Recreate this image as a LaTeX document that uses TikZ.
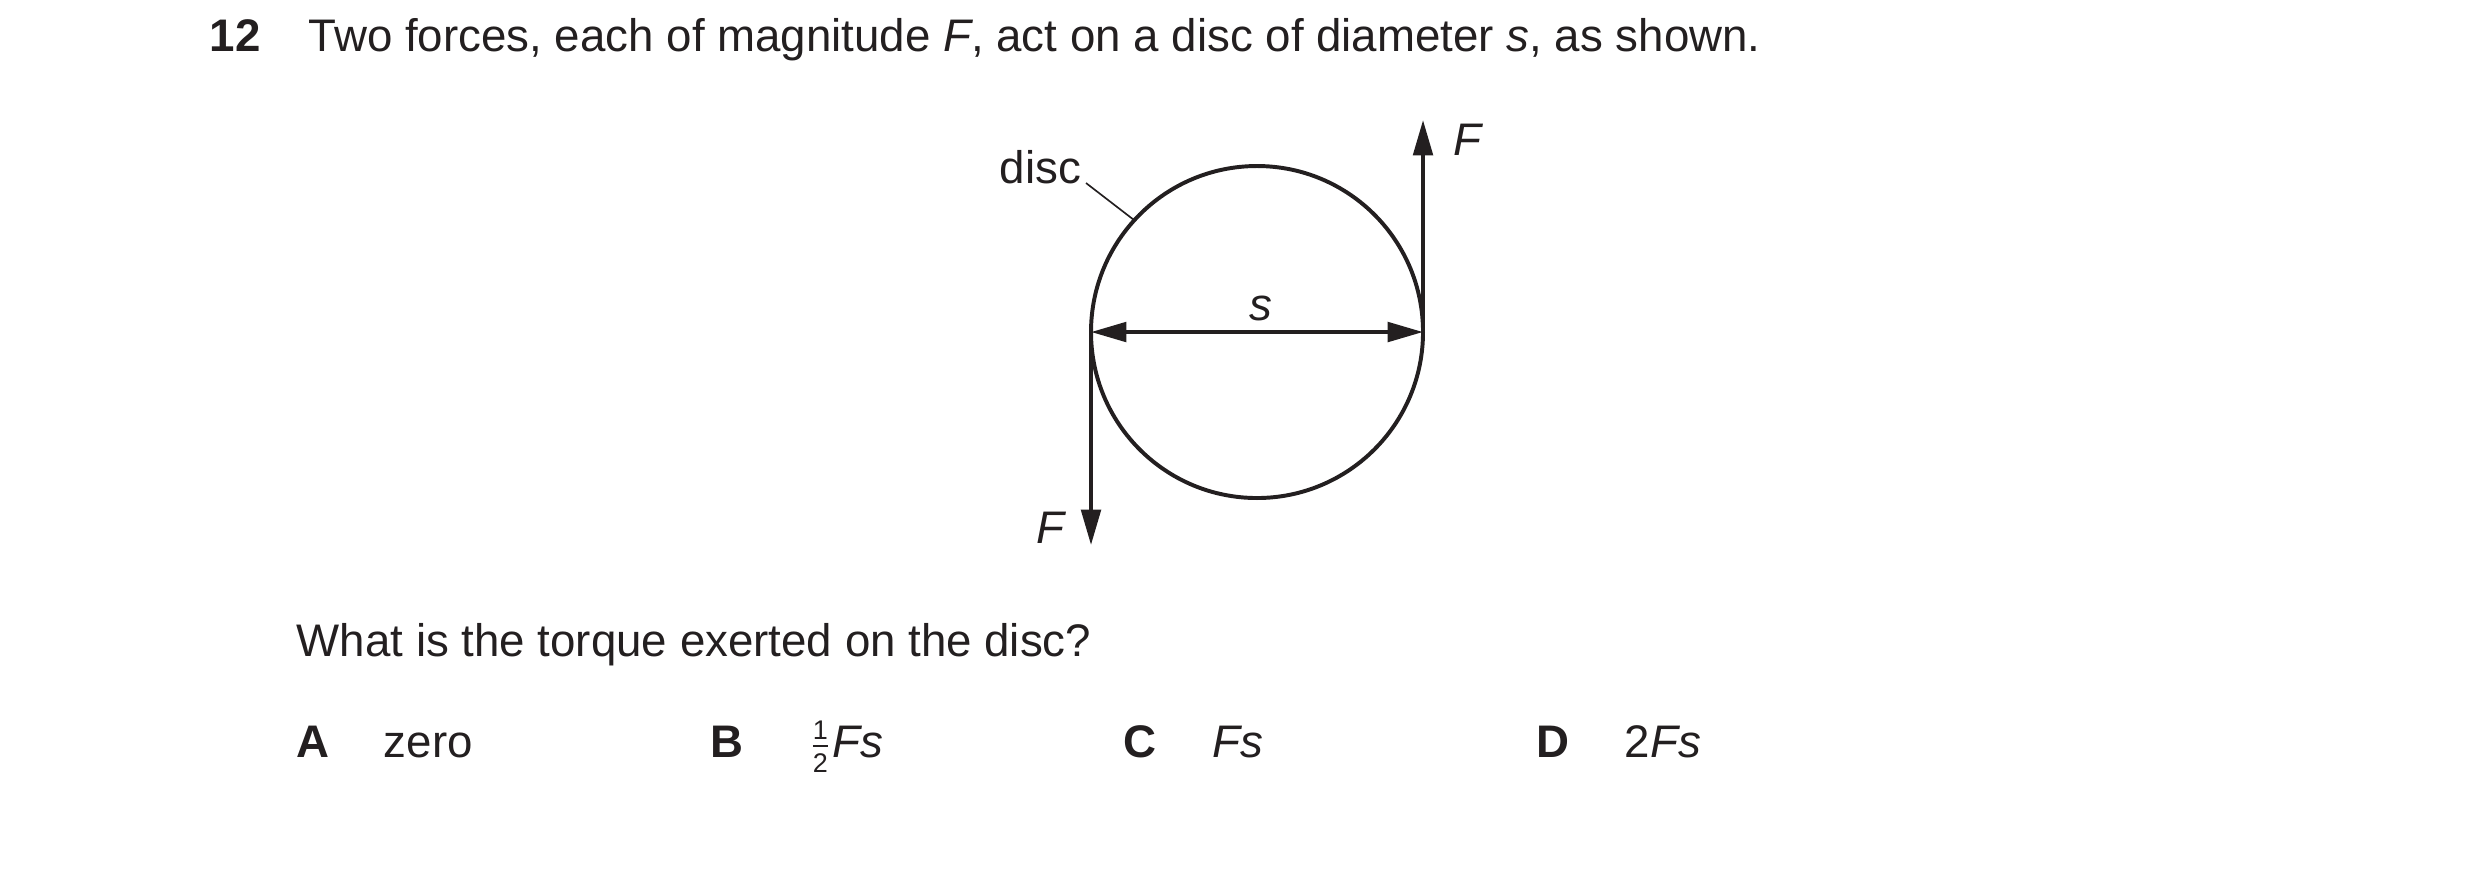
\documentclass[tikz,border=0pt]{standalone}
\usepackage{fontspec}
\setmainfont{Liberation Sans}
\usetikzlibrary{arrows.meta}
\definecolor{ink}{HTML}{231F20}
\newcommand\halfsym{\ensuremath{\frac{\mbox{\fontsize{6.5}{7}\selectfont 1}}{\mbox{\fontsize{6.5}{7}\selectfont 2}}}}
\begin{document}
\begin{tikzpicture}[x=0.084667mm,y=-0.084667mm,color=ink,
  txt/.style={anchor=base west,inner sep=0pt,text=ink,font=\fontsize{11}{13}\selectfont},
  thick line/.style={line width=0.95pt,draw=ink},
  force/.style={thick line,-{Triangle[length=3mm,width=1.65mm]}},
  dim/.style={thick line,{Triangle[length=3mm,width=1.65mm]}-{Triangle[length=3mm,width=1.65mm]}},
  leader/.style={line width=0.4pt,draw=ink}]
\useasboundingbox (0,0) rectangle (2480,879);
% question
\node[txt,font=\fontsize{11}{13}\selectfont\bfseries] (num) at (209,51) {12};
\node[txt] (q) at (308,51) {Two forces, each of magnitude \textit{F}, act on a disc of diameter \textit{s}, as shown.};
% disc
\coordinate (C) at (1257,332);
\coordinate (L) at (1091,332);
\coordinate (R) at (1423,332);
\coordinate (Rtip) at (1423,120);
\coordinate (Ltip) at (1091,545);
\coordinate (P) at (1134,220);
\draw[thick line] (C) circle[radius=166];
\draw[dim] (L) -- (R);
\draw[force] (R) -- (Rtip);
\draw[force] (L) -- (Ltip);
\node[txt] (disc) at (999,183) {disc};
\coordinate (D) at (1086,183);
\draw[leader] (D) -- (P);
\node[txt] (Fr) at (1453,155) {\textit{F}};
\node[txt] (Fl) at (1036,543) {\textit{F}};
\node[txt] (s) at (1249,320) {\textit{s}};
% question 2
\node[txt] (q2) at (296,656) {What is the torque exerted on the disc?};
\node[txt,font=\fontsize{11}{13}\selectfont\bfseries] (A) at (296,757) {A};
\node[txt] (Aa) at (383,757) {zero};
\node[txt,font=\fontsize{11}{13}\selectfont\bfseries] (B) at (710,757) {B};
\node[txt] (Ba) at (807,757) {\halfsym\textit{Fs}};
\node[txt,font=\fontsize{11}{13}\selectfont\bfseries] (Cc) at (1123,757) {C};
\node[txt] (Ca) at (1212,757) {\textit{Fs}};
\node[txt,font=\fontsize{11}{13}\selectfont\bfseries] (Dd) at (1536,757) {D};
\node[txt] (Da) at (1624,757) {2\textit{Fs}};
\end{tikzpicture}
\end{document}
